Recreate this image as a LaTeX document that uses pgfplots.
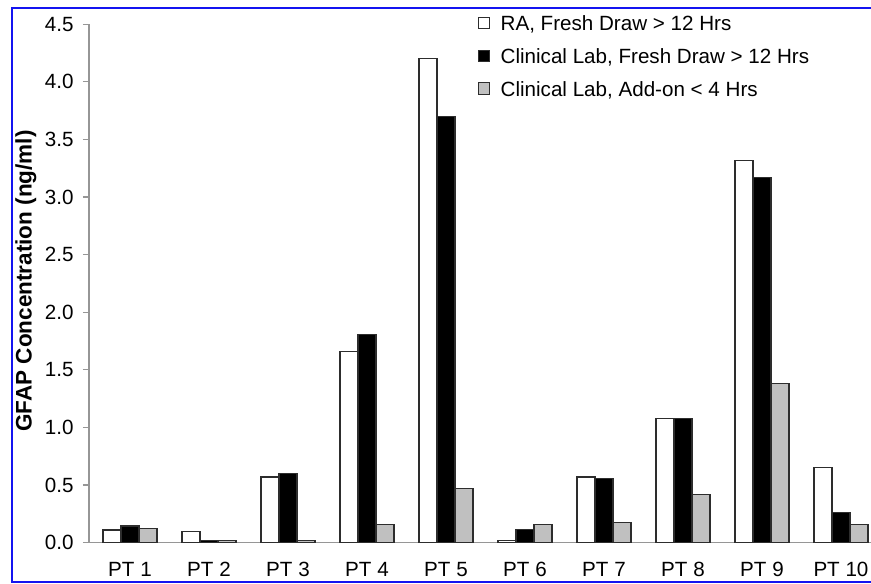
\documentclass[border=0pt]{standalone}
\usepackage{fontspec}
\setmainfont{Liberation Sans}
\setsansfont{Liberation Sans}
\usepackage{pgfplots}
\pgfplotsset{compat=1.18}
\definecolor{barline}{RGB}{45,45,45}
\definecolor{bargray}{RGB}{192,192,192}
\definecolor{axisgray}{RGB}{150,150,150}
\definecolor{frameblue}{RGB}{20,20,240}

% values, PT 1 .. PT 10
\pgfplotstableread{
x  ra     clfresh  addon
0  0.11   0.145    0.125
1  0.10   0.02     0.02
2  0.57   0.60     0.02
3  1.66   1.81     0.16
4  4.20   3.70     0.47
5  0.02   0.115    0.16
6  0.57   0.555    0.175
7  1.08   1.08     0.415
8  3.32   3.17     1.385
9  0.65   0.265    0.16
}\gfapdata

\begin{document}
\begin{tikzpicture}
\useasboundingbox (0pt,0pt) rectangle (871pt,584pt);
\clip (0pt,0pt) rectangle (871pt,584pt);
\begin{axis}[
  at={(89pt,41.3pt)}, anchor=south west,
  scale only axis, width=782pt, height=518.4pt,
  xmin=-0.519, xmax=9.38, ymin=0, ymax=4.5,
  axis x line*=bottom, axis y line*=left,
  axis line style={-, draw=axisgray, line width=1.4pt},
  xtick=data,
  xticklabels={PT 1,PT 2,PT 3,PT 4,PT 5,PT 6,PT 7,PT 8,PT 9,PT 10},
  x tick style={draw=none},
  xticklabel style={yshift=-10pt},
  ytick={0,0.5,...,4.5},
  ytick align=outside,
  y tick style={draw=axisgray, line width=1.2pt},
  major tick length=6pt,
  yticklabel style={xshift=-6pt, /pgf/number format/.cd, fixed, fixed zerofill, precision=1},
  /pgf/number format/assume math mode=true,
  tick label style={font=\fontsize{20.6pt}{24pt}\selectfont},
  ylabel={GFAP Concentration (ng/ml)},
  every axis y label/.style={at={(axis description cs:-0.0806,0.505)},
    anchor=center, rotate=90, font=\bfseries\fontsize{22.5pt}{26pt}\selectfont},
  ybar, bar width=0.228,
  legend style={at={(axis description cs:0.4974,1.0266)}, anchor=north west,
    draw=none, fill=none, inner sep=0pt, row sep=9.25pt,
    font=\fontsize{20.6pt}{24pt}\selectfont},
  legend cell align=left,
  legend image code/.code={
    \path[draw=none, fill=none, use as bounding box] (0pt,0pt) rectangle (20.5pt,13.25pt);
    \draw[#1, draw=barline, line width=1pt] (0pt,-5pt) rectangle (11.5pt,6.5pt);},
]
\addplot[fill=white, draw=barline, line width=1.2pt, bar shift=-0.228]
  table[x=x, y=ra] {\gfapdata};
\addplot[fill=black, draw=barline, line width=1.2pt, bar shift=0]
  table[x=x, y=clfresh] {\gfapdata};
\addplot[fill=bargray, draw=barline, line width=1.2pt, bar shift=0.228]
  table[x=x, y=addon] {\gfapdata};
\legend{RA{,} Fresh Draw > 12 Hrs, Clinical Lab{,} Fresh Draw > 12 Hrs, Clinical Lab{,} Add-on < 4 Hrs}
\end{axis}
\draw[frameblue, line width=2.5pt] (880pt,576pt) -- (12pt,576pt) -- (12pt,2pt) -- (880pt,2pt);
\end{tikzpicture}
\end{document}
